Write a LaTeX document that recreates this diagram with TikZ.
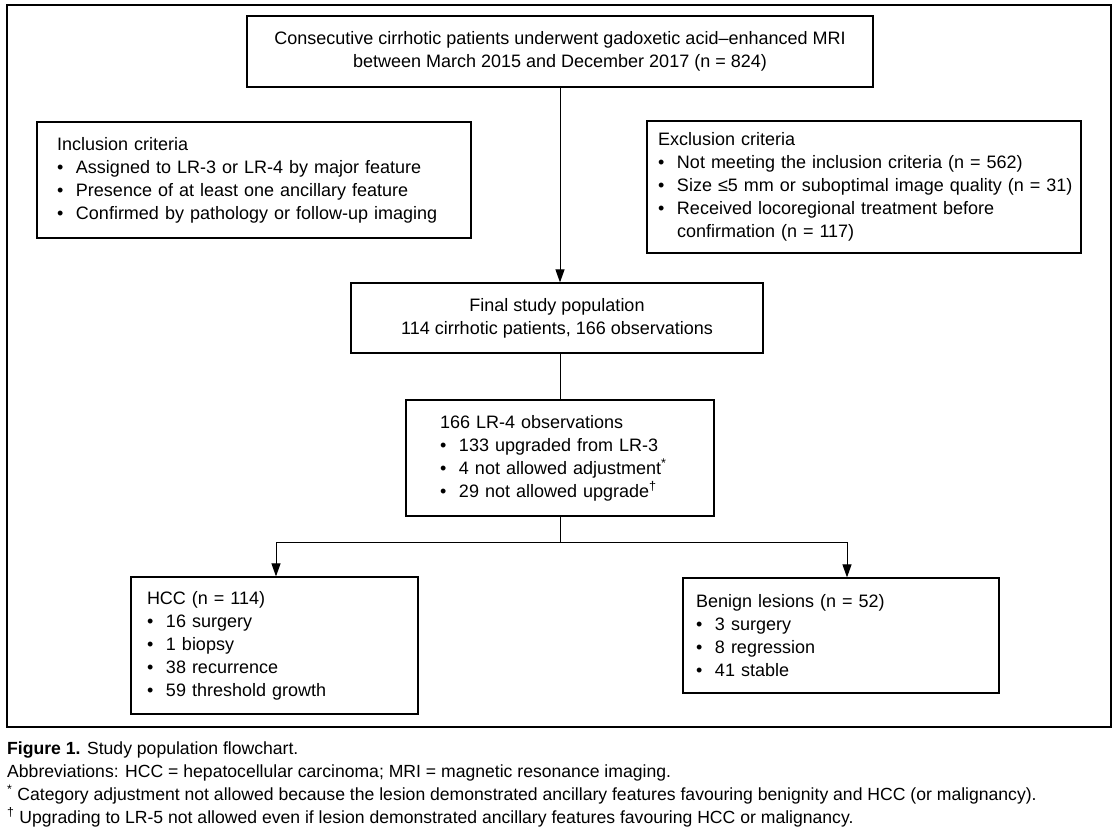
\documentclass[tikz,border=0pt]{standalone}
\usepackage{fontspec}
\setmainfont{Liberation Sans}
\usetikzlibrary{arrows.meta,calc}
\hbadness=10000 \hfuzz=50pt
\newcommand\bul{\makebox[19pt][l]{\textbullet}}
\tikzset{
  box/.style={draw, rectangle, line width=1.2pt, font=\fontsize{18pt}{23pt}\selectfont, inner ysep=0pt},
  listbox/.style={box, align=left},
  conn/.style={line width=1pt},
  tip/.style={-{Triangle[length=13pt,width=9pt]}},
  captext/.style={anchor=base west, inner sep=0pt, font=\fontsize{17.6pt}{23pt}\selectfont}
}
\begin{document}
\begin{tikzpicture}[x=1pt,y=-1pt]
\useasboundingbox[fill=white] (0,0) rectangle (1119,835);
\draw[line width=1.3pt] (7,5) rectangle (1111,727);

\node[box, minimum width=626pt, minimum height=71pt, align=center] (top) at (560,51.5)
  {Consecutive cirrhotic patients underwent gadoxetic acid–enhanced MRI\\between March 2015 and December 2017 (n = 824)};

\node[listbox, minimum width=434pt, minimum height=116pt, inner xsep=20pt, text width=394pt] (incl) at (254,180)
  {Inclusion criteria\\
   \bul Assigned to LR-3 or LR-4 by major feature\\
   \bul Presence of at least one ancillary feature\\
   \bul Confirmed by pathology or follow-up imaging};

\node[listbox, minimum width=434pt, minimum height=132pt, inner xsep=11pt, text width=412pt] (excl) at (864,187)
  {Exclusion criteria\\
   \bul Not meeting the inclusion criteria (n = 562)\\
   \mbox{\bul Size ≤5 mm or suboptimal image quality (n = 31)}\\
   \bul Received locoregional treatment before\\
   \hspace*{19pt}confirmation (n = 117)};

\node[box, minimum width=412pt, minimum height=70pt, align=center] (final) at (557,318)
  {Final study population\\114 cirrhotic patients, 166 observations};

\node[listbox, minimum width=308pt, minimum height=116pt, inner xsep=34pt, text width=240pt] (lr4) at (560,458)
  {166 LR-4 observations\\
   \bul 133 upgraded from LR-3\\
   \bul 4 not allowed adjustment\textsuperscript{*}\\
   \bul 29 not allowed upgrade\textsuperscript{†}};

\node[listbox, minimum width=287pt, minimum height=137pt, inner xsep=16pt, text width=255pt] (hcc) at (274.5,645.5)
  {HCC (n = 114)\\
   \bul 16 surgery\\
   \bul 1 biopsy\\
   \bul 38 recurrence\\
   \bul 59 threshold growth};

\node[listbox, minimum width=316pt, minimum height=115pt, inner xsep=13pt, text width=290pt] (benign) at (841,635.5)
  {Benign lesions (n = 52)\\
   \bul 3 surgery\\
   \bul 8 regression\\
   \bul 41 stable};

\draw[conn, tip] (top.south) -- (top.south |- final.north);
\draw[conn] (lr4.north |- final.south) -- (lr4.north);
\coordinate (split) at (560,542);
\draw[conn] (lr4.south) -- (split);
\draw[conn, tip] (split) -| ([xshift=1.5pt]hcc.north);
\draw[conn, tip] (split) -| ([xshift=6pt]benign.north);

\node[captext] (cap1) at (7,754) {\textbf{Figure 1.} Study population flowchart.};
\node[captext] (cap2) at (7,777) {Abbreviations: HCC = hepatocellular carcinoma; MRI = magnetic resonance imaging.};
\node[captext] (cap3) at (7,800) {\textsuperscript{*} Category adjustment not allowed because the lesion demonstrated ancillary features favouring benignity and HCC (or malignancy).};
\node[captext] (cap4) at (7,823) {\textsuperscript{†} Upgrading to LR-5 not allowed even if lesion demonstrated ancillary features favouring HCC or malignancy.};
\end{tikzpicture}
\end{document}
